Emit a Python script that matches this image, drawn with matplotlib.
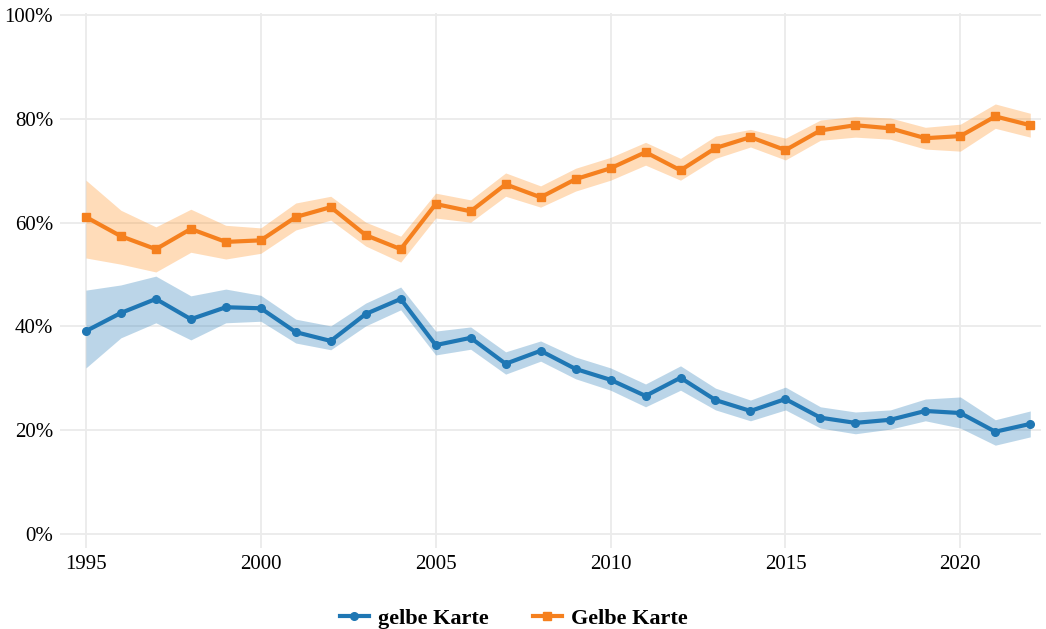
import matplotlib.pyplot as plt
from matplotlib.ticker import FuncFormatter

# Data (Anteile in %)
years = list(range(1995, 2023))

gelbe_klein = [39.1, 42.6, 45.3, 41.4, 43.7, 43.5, 38.9, 37.2, 42.4, 45.3,
               36.4, 37.8, 32.8, 35.3, 31.8, 29.7, 26.6, 30.1, 25.8, 23.7,
               26.0, 22.4, 21.4, 22.0, 23.7, 23.3, 19.7, 21.2]
gelbe_klein_hi = [47.0, 48.0, 49.7, 45.9, 47.2, 46.0, 41.4, 40.1, 44.5, 47.6,
                  39.1, 39.9, 35.1, 37.2, 34.1, 32.0, 28.9, 32.4, 28.1, 25.8,
                  28.3, 24.5, 23.5, 23.9, 26.0, 26.4, 22.0, 23.7]
gelbe_klein_lo = [32.0, 37.8, 40.7, 37.4, 40.7, 41.0, 36.8, 35.5, 40.1, 43.2,
                  34.5, 35.6, 30.8, 33.3, 29.9, 27.7, 24.5, 27.7, 23.9, 21.8,
                  23.9, 20.4, 19.3, 20.2, 21.8, 20.4, 17.1, 18.7]

gelbe_gross = [61.1, 57.4, 54.9, 58.8, 56.3, 56.6, 61.1, 63.0, 57.6, 54.9,
               63.6, 62.2, 67.4, 64.9, 68.4, 70.5, 73.6, 70.1, 74.4, 76.5,
               74.0, 77.8, 78.8, 78.2, 76.3, 76.7, 80.5, 78.8]
gelbe_gross_hi = [68.2, 62.4, 59.2, 62.6, 59.5, 59.0, 63.8, 65.1, 60.1, 57.4,
                  65.7, 64.4, 69.6, 67.1, 70.5, 72.6, 75.5, 72.4, 76.7, 78.0,
                  76.3, 79.8, 80.5, 80.2, 78.4, 79.0, 82.9, 81.1]
gelbe_gross_lo = [53.2, 52.0, 50.5, 54.3, 53.0, 54.1, 58.6, 60.5, 55.5, 52.4,
                  60.9, 60.1, 65.1, 63.0, 66.1, 68.2, 71.1, 68.2, 72.4, 74.6,
                  72.1, 75.9, 76.5, 76.1, 74.2, 73.8, 78.2, 76.5]

blue = '#1f77b4'
orange = '#f5801e'

plt.rcParams['font.family'] = ['Liberation Serif', 'DejaVu Serif']

fig = plt.figure(figsize=(10.46, 6.29), dpi=100)
ax = fig.add_axes([0.0574, 0.129, 0.9376, 0.85])

ax.fill_between(years, gelbe_klein_lo, gelbe_klein_hi, color=blue, alpha=0.3, linewidth=0)
ax.fill_between(years, gelbe_gross_lo, gelbe_gross_hi, color='#ff8c1a', alpha=0.3, linewidth=0)
ax.plot(years, gelbe_klein, color=blue, linewidth=3, marker='o', markersize=5.5,
        label='gelbe Karte')
ax.plot(years, gelbe_gross, color=orange, linewidth=3, marker='s', markersize=5.5,
        label='Gelbe Karte')

ax.set_xlim(1994.26, 2022.3)
ax.set_ylim(-2.7, 100.4)
ax.set_xticks([1995, 2000, 2005, 2010, 2015, 2020])
ax.set_yticks([0, 20, 40, 60, 80, 100])
ax.yaxis.set_major_formatter(FuncFormatter(lambda v, p: f'{v:.0f}%'))
ax.tick_params(length=0, labelsize=15, pad=5)
ax.grid(color='#ebebeb', linewidth=1.3)
ax.set_axisbelow(True)
for s in ax.spines.values():
    s.set_visible(False)

fig.legend(loc='center', bbox_to_anchor=(0.491, 0.017), ncol=2, frameon=False,
           prop={'weight': 'bold', 'size': 16}, handlelength=1.3, handletextpad=0.4,
           columnspacing=2.0, borderpad=0)

plt.savefig('out.png', dpi=100)
